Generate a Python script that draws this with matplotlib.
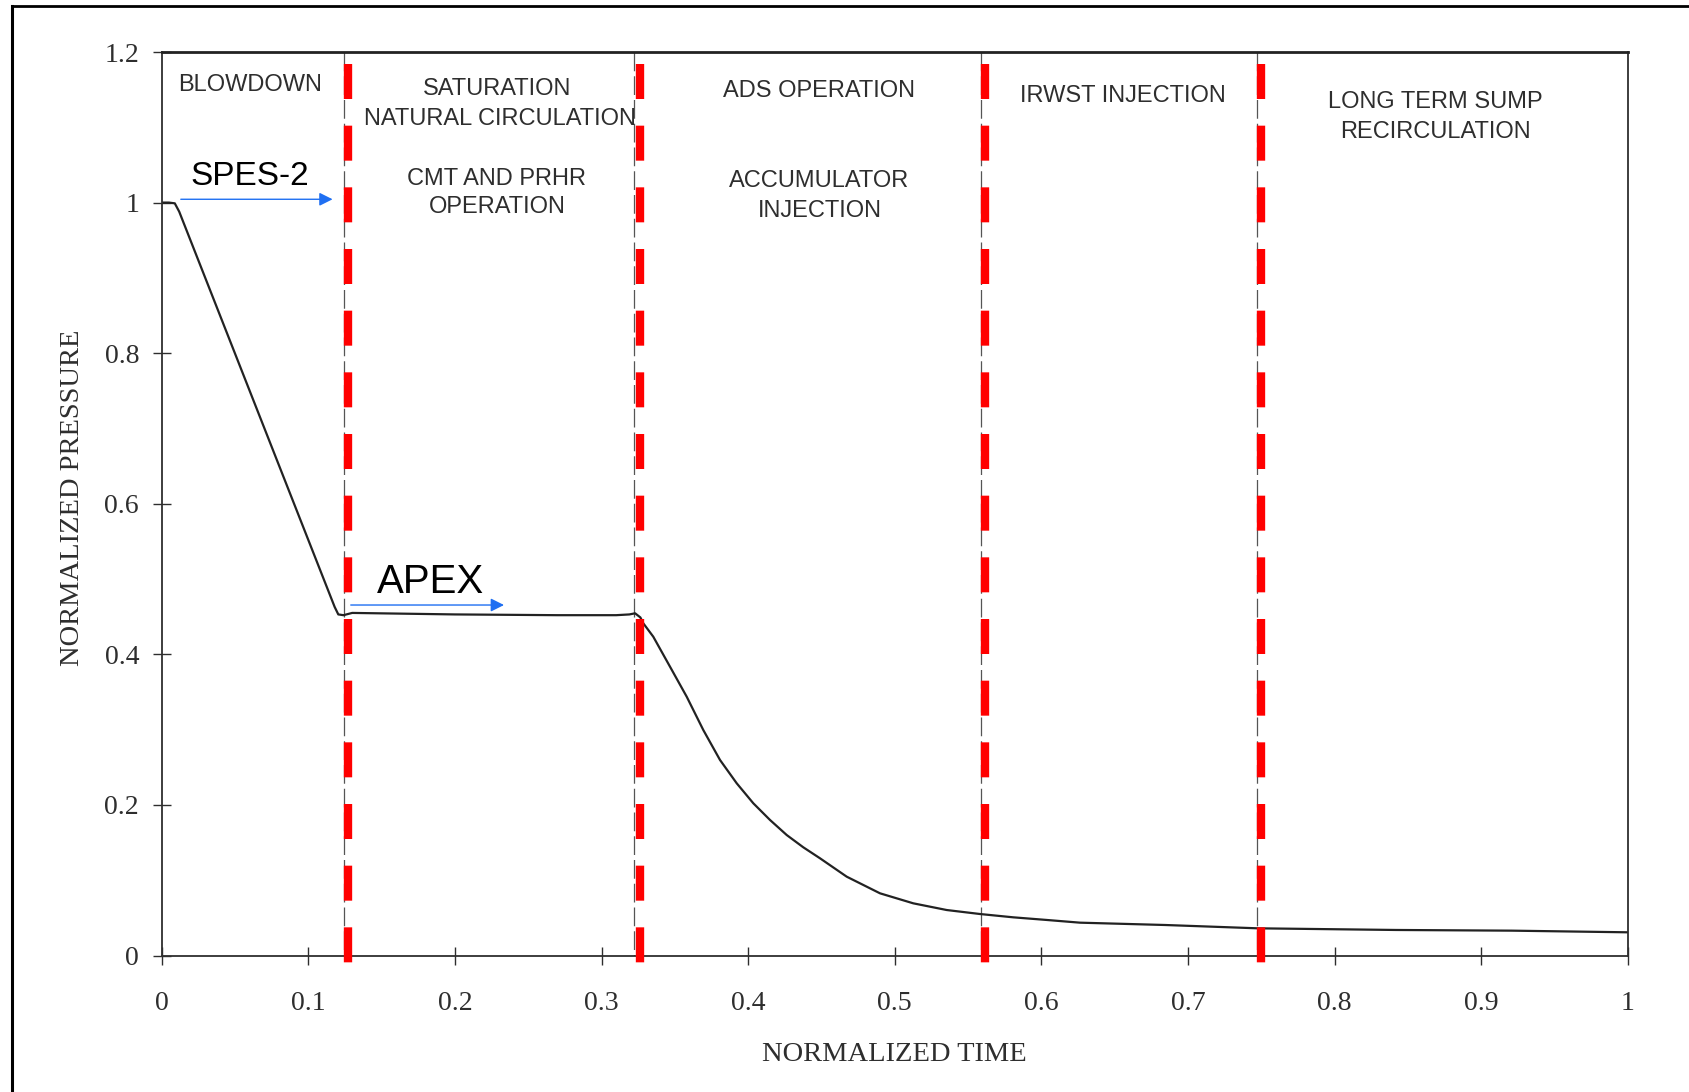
import matplotlib
matplotlib.use("Agg")
import matplotlib.pyplot as plt
from matplotlib.lines import Line2D

# pressure curve
time = [0.0, 0.005, 0.009, 0.012, 0.118, 0.1205, 0.124, 0.13, 0.20, 0.27,
        0.31, 0.319, 0.3229, 0.3265, 0.3285, 0.3353, 0.3467, 0.3581, 0.3694,
        0.3808, 0.3922, 0.4035, 0.4149, 0.4263, 0.4376, 0.4490, 0.4672,
        0.4899, 0.5126, 0.5354, 0.5581, 0.5808, 0.6036, 0.6263, 0.6845,
        0.7475, 0.8418, 0.9206, 1.0]
pressure = [1.0, 1.0, 0.999, 0.988, 0.463, 0.453, 0.452, 0.455, 0.453, 0.452,
            0.452, 0.453, 0.4545, 0.449, 0.4412, 0.4234, 0.3836, 0.3437, 0.2995,
            0.2597, 0.2287, 0.2022, 0.1800, 0.1600, 0.1437, 0.1291, 0.1047,
            0.0826, 0.0693, 0.0604, 0.0551, 0.0507, 0.0472, 0.0436, 0.0405,
            0.0361, 0.0339, 0.0330, 0.0308]

# phase boundaries: thin grey ones from the scan, thick red ones drawn over
scan_bounds = [0.1246, 0.3223, 0.5585, 0.7470]
red_bounds = [0.1274, 0.3263, 0.5613, 0.7498]

# phase names (x = centre, y = baseline)
phase_text = ["BLOWDOWN",
              "SATURATION", "NATURAL CIRCULATION", "CMT AND PRHR", "OPERATION",
              "ADS OPERATION", "ACCUMULATOR", "INJECTION",
              "IRWST INJECTION",
              "LONG TERM SUMP", "RECIRCULATION"]
phase_x = [0.0603,
           0.2287, 0.2308, 0.2285, 0.2286,
           0.4486, 0.4484, 0.4486,
           0.6558,
           0.8689, 0.8689]
phase_y = [1.1486,
           1.1429, 1.1031, 1.0233, 0.9858,
           1.1407, 1.0203, 0.9813,
           1.1332,
           1.1252, 1.0854]

x_ticks = [0, 0.1, 0.2, 0.3, 0.4, 0.5, 0.6, 0.7, 0.8, 0.9, 1]
x_labels = ["0", "0.1", "0.2", "0.3", "0.4", "0.5", "0.6", "0.7", "0.8", "0.9", "1"]
y_ticks = [0, 0.2, 0.4, 0.6, 0.8, 1.0, 1.2]
y_labels = ["0", "0.2", "0.4", "0.6", "0.8", "1", "1.2"]

ink = "#2e2e2e"
blue = "#1f6ff2"

fig = plt.figure(figsize=(16.89, 10.92), dpi=100)
ax = fig.add_axes([0.09568, 0.125, 0.8682, 0.82738])
ax.set_xlim(0, 1)
ax.set_ylim(0, 1.2)

# original dashed boundaries
for xb in scan_bounds:
    ax.plot([xb, xb], [1.2, 0.0], color="#555555", lw=0.9, dashes=(15, 4))

# the curve
ax.plot(time, pressure, color="#222222", lw=1.6, solid_joinstyle="round")

# red highlight boundaries
for xb in red_bounds:
    ax.plot([xb, xb], [1.184, -0.015], color="#ff0000", lw=6,
            dashes=(4.2, 3.2), dash_capstyle="butt",
            clip_on=False, zorder=5)

for t, x, y in zip(phase_text, phase_x, phase_y):
    ax.text(x, y, t, ha="center", va="baseline", fontsize=17,
            family="Liberation Sans", color=ink)

# added annotations
ax.text(0.0598, 1.0233, "SPES-2", ha="center", va="baseline", fontsize=24,
        family="Liberation Sans", color="black")
ax.annotate("", xy=(0.1166, 1.0044), xytext=(0.0131, 1.0044),
            arrowprops=dict(arrowstyle="-|>", color=blue, lw=1.0,
                            mutation_scale=20, shrinkA=0, shrinkB=0))
ax.text(0.1836, 0.4811, "APEX", ha="center", va="baseline", fontsize=29,
        family="Liberation Sans", color="black")
ax.annotate("", xy=(0.2335, 0.4655), xytext=(0.129, 0.4655),
            arrowprops=dict(arrowstyle="-|>", color=blue, lw=1.0,
                            mutation_scale=20, shrinkA=0, shrinkB=0))

ax.set_xticks(x_ticks)
ax.set_xticklabels(x_labels)
ax.set_yticks(y_ticks)
ax.set_yticklabels(y_labels)
ax.tick_params(axis="both", direction="inout", length=12.5, width=1,
               colors=ink, labelsize=20)
ax.tick_params(axis="x", pad=19)
ax.tick_params(axis="y", pad=10)
for lab in ax.get_xticklabels() + ax.get_yticklabels():
    lab.set_family("Liberation Serif")

ax.set_xlabel("NORMALIZED TIME", family="Liberation Serif", fontsize=20.5,
              color=ink)
ax.set_ylabel("NORMALIZED PRESSURE", family="Liberation Serif", fontsize=20.5,
              color=ink)
ax.xaxis.set_label_coords(0.5, -0.11)
ax.xaxis.label.set_va("center")
ax.yaxis.set_label_coords(-0.0606, 0.507)
ax.yaxis.label.set_va("center")

for side in ["left", "right", "bottom"]:
    ax.spines[side].set_color(ink)
    ax.spines[side].set_linewidth(1.3)
ax.spines["top"].set_color("#222222")
ax.spines["top"].set_linewidth(2.0)

# frame of the scanned page (left and top edges only)
fig.add_artist(Line2D([0.0071, 0.0071], [0.0, 0.9948], color="black", lw=2.2))
fig.add_artist(Line2D([0.0071, 1.0], [0.9948, 0.9948], color="black", lw=2.0))

fig.savefig("out.png", dpi=100)
